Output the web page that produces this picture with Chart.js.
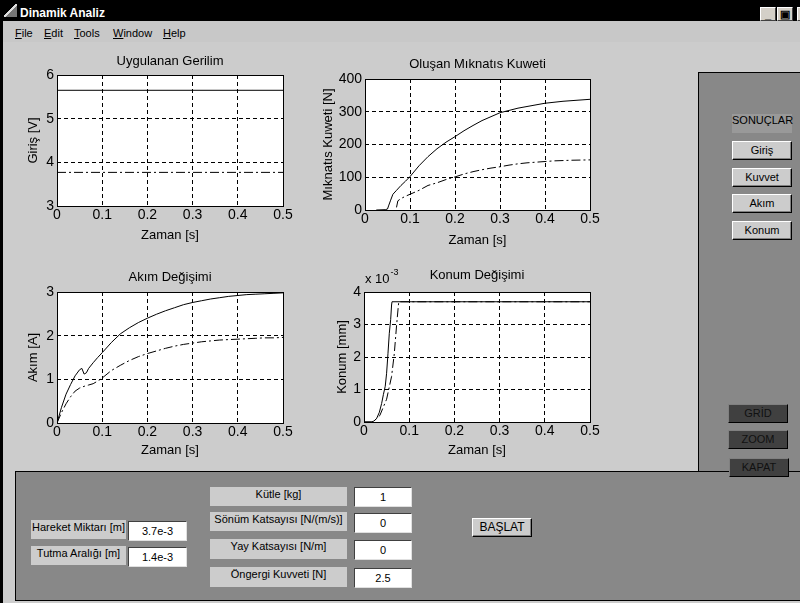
<!DOCTYPE html>
<html><head><meta charset="utf-8">
<script src="https://cdn.jsdelivr.net/npm/chart.js@4.4.1/dist/chart.umd.min.js"></script>
<style>
html,body{margin:0;padding:0;}
body{width:800px;height:603px;position:relative;overflow:hidden;background:#cccccc;font-family:'Liberation Sans',Arial,sans-serif;color:#000;}
.a{position:absolute;box-sizing:border-box;}
#titlebar{left:0;top:0;width:800px;height:21px;background:#000;}
#ttext{left:20px;top:5px;color:#fff;font-weight:bold;font-size:12px;line-height:16px;}
#icon{left:4px;top:4px;width:13px;height:13px;background:linear-gradient(135deg,#000 0 45%,#ddd 45% 55%,#777 55% 100%);}
.wb{top:7px;width:16px;height:14px;background:#d4d0c8;border-top:1px solid #fff;border-left:1px solid #fff;border-right:1px solid #404040;border-bottom:1px solid #404040;font-size:11px;line-height:12px;text-align:center;font-weight:bold;}
#menubar{left:0;top:21px;width:800px;height:21px;background:#c8c8c8;}
.m{top:26px;font-size:11px;line-height:14px;}
.m u{text-decoration:underline;}
#leftedge{left:0;top:21px;width:3px;height:582px;background:#000;}
#rpanel{left:698px;top:72px;width:102px;height:399px;background:#888888;border-left:1px solid #000;border-top:1px solid #000;}
#bpanel{left:15px;top:471px;width:785px;height:130px;background:#888888;border-left:1px solid #000;border-top:1px solid #000;border-bottom:1px solid #000;}
.btn{background:#cccccc;border-top:1px solid #fff;border-left:1px solid #fff;border-right:1px solid #000;border-bottom:1px solid #000;box-shadow:inset -1px -1px #808080;font-size:11px;text-align:center;line-height:17px;}
.dbtn{background:#404040;border-top:1px solid #808080;border-left:1px solid #808080;border-right:1px solid #000;border-bottom:1px solid #000;font-size:11px;text-align:center;line-height:17px;color:#111;}
.lbl{background:#cccccc;font-size:11px;text-align:center;line-height:14px;}
.ed{background:#fff;border-top:1px solid #404040;border-left:1px solid #404040;border-right:1px solid #e0e0e0;border-bottom:1px solid #e0e0e0;font-size:11px;text-align:center;line-height:19px;}
canvas{position:absolute;}
</style>
</head><body>
<div class="a" id="titlebar"></div>
<div class="a" id="icon"></div>
<div class="a" id="ttext">Dinamik Analiz</div>
<div class="a wb" style="left:760px;">_</div>
<div class="a wb" style="left:777px;">&#x25A3;</div>
<div class="a wb" style="left:797px;">×</div>
<div class="a" id="menubar"></div>
<div class="a m" style="left:15px;"><u>F</u>ile</div>
<div class="a m" style="left:44px;"><u>E</u>dit</div>
<div class="a m" style="left:74px;"><u>T</u>ools</div>
<div class="a m" style="left:113px;"><u>W</u>indow</div>
<div class="a m" style="left:163px;"><u>H</u>elp</div>
<div class="a" id="leftedge"></div>

<div class="a" id="rpanel"></div>
<div class="a lbl" style="left:732px;top:114px;width:60px;height:19px;background:#999999;line-height:13px;">SONUÇLAR</div>
<div class="a btn" style="left:732px;top:141px;width:60px;height:19px;">Giriş</div>
<div class="a btn" style="left:732px;top:168px;width:60px;height:19px;">Kuvvet</div>
<div class="a btn" style="left:732px;top:194px;width:60px;height:19px;">Akım</div>
<div class="a btn" style="left:732px;top:221px;width:60px;height:19px;">Konum</div>

<div class="a" id="bpanel"></div>
<div class="a dbtn" style="left:728px;top:404px;width:60px;height:19px;">GRİD</div>
<div class="a dbtn" style="left:728px;top:430px;width:60px;height:19px;">ZOOM</div>
<div class="a dbtn" style="left:729px;top:458px;width:60px;height:19px;">KAPAT</div>

<div class="a lbl" style="left:31px;top:520px;width:95px;height:19px;">Hareket Miktarı [m]</div>
<div class="a ed" style="left:128px;top:521px;width:59px;height:20px;">3.7e-3</div>
<div class="a lbl" style="left:31px;top:546px;width:95px;height:19px;">Tutma Aralığı [m]</div>
<div class="a ed" style="left:128px;top:547px;width:59px;height:20px;">1.4e-3</div>

<div class="a lbl" style="left:210px;top:487px;width:137px;height:19px;">Kütle [kg]</div>
<div class="a ed" style="left:354px;top:487px;width:58px;height:20px;">1</div>
<div class="a lbl" style="left:210px;top:512px;width:137px;height:19px;">Sönüm Katsayısı [N/(m/s)]</div>
<div class="a ed" style="left:354px;top:513px;width:58px;height:20px;">0</div>
<div class="a lbl" style="left:210px;top:539px;width:137px;height:20px;">Yay Katsayısı [N/m]</div>
<div class="a ed" style="left:354px;top:540px;width:58px;height:20px;">0</div>
<div class="a lbl" style="left:210px;top:567px;width:137px;height:20px;">Öngergi Kuvveti [N]</div>
<div class="a ed" style="left:354px;top:568px;width:58px;height:20px;">2.5</div>
<div class="a btn" style="left:472px;top:518px;width:60px;height:19px;font-size:12px;">BAŞLAT</div>

<canvas id="c1" width="300" height="215" style="left:0;top:45px;"></canvas>
<canvas id="c2" width="310" height="215" style="left:300px;top:45px;"></canvas>
<canvas id="c3" width="300" height="215" style="left:0;top:255px;"></canvas>
<canvas id="c4" width="310" height="215" style="left:300px;top:255px;"></canvas>

<script>
// ---------- DATA ----------
const xTicks = ['0', '0.1', '0.2', '0.3', '0.4', '0.5'];

// Uygulanan Gerilim (Giriş [V])
const girisT = [0, 0.5];
const girisSolid = [5.65, 5.65];
const girisDashDot = [3.77, 3.77];

// Oluşan Mıknatıs Kuweti [N]
const kuvvetT1 = [0.025,0.045,0.05,0.053,0.057,0.062,0.07,0.08,0.09,0.1,0.12,0.14,0.16,0.18,0.2,0.22,0.24,0.26,0.28,0.3,0.32,0.34,0.36,0.38,0.4,0.42,0.44,0.46,0.48,0.5];
const kuvvet1  = [0,1,3,15,30,48,60,75,88,102,135,163,187,207,224,242,258,273,285,297,304,311,316,321,326,329,332,334,336,338];
const kuvvetT2 = [0.07,0.073,0.08,0.09,0.1,0.12,0.14,0.16,0.18,0.2,0.22,0.24,0.26,0.28,0.3,0.32,0.34,0.36,0.38,0.4,0.42,0.44,0.46,0.48,0.5];
const kuvvet2  = [8,28,35,42,48,60,75,83,93,101,110,117,123,128,132,137,141,144,146,148,150,151,152,152.5,153];

// Akım Değişimi [A]
const akimT1 = [0,0.005,0.01,0.02,0.03,0.04,0.05,0.055,0.06,0.065,0.07,0.08,0.09,0.1,0.12,0.14,0.16,0.18,0.2,0.22,0.24,0.26,0.28,0.3,0.32,0.34,0.36,0.38,0.4,0.42,0.44,0.46,0.48,0.5];
const akim1  = [0,0.18,0.36,0.66,0.88,1.08,1.22,1.25,1.12,1.15,1.25,1.38,1.5,1.61,1.84,2.04,2.18,2.3,2.4,2.49,2.57,2.64,2.71,2.76,2.8,2.84,2.87,2.9,2.92,2.94,2.95,2.96,2.97,2.98];
const akimT2 = [0,0.01,0.02,0.03,0.04,0.05,0.06,0.07,0.08,0.09,0.1,0.12,0.14,0.16,0.18,0.2,0.22,0.24,0.26,0.28,0.3,0.32,0.34,0.36,0.38,0.4,0.42,0.44,0.46,0.48,0.5];
const akim2  = [0,0.24,0.44,0.6,0.73,0.8,0.84,0.87,0.9,0.96,1.03,1.2,1.32,1.43,1.52,1.59,1.65,1.71,1.76,1.8,1.83,1.86,1.88,1.9,1.91,1.92,1.93,1.94,1.95,1.95,1.96];

// Konum Değişimi (x 10^-3)
const konumT1 = [0,0.017,0.022,0.028,0.034,0.039,0.043,0.047,0.05,0.053,0.056,0.059,0.061,0.062,0.5];
const konum1  = [0,0,0.03,0.11,0.3,0.57,0.85,1.1,1.5,2.1,2.73,3.15,3.6,3.7,3.7];
const konumT2 = [0,0.02,0.035,0.05,0.061,0.067,0.072,0.076,0.077,0.5];
const konum2  = [0,0,0.2,0.7,1.4,2.1,2.96,3.58,3.7,3.7];

// ---------- RENDERING ----------
const FONT = "'Liberation Sans', Arial, Helvetica, sans-serif";
Chart.defaults.font.family = FONT;
Chart.defaults.color = '#000';

const pts = (t, v) => t.map((x, i) => ({x: x, y: v[i]}));
const SOLID = [];
const DASHDOT = [9, 3, 2, 3];

const matlabAxes = {
  id: 'matlabAxes',
  beforeDraw(chart) {
    const a = chart.chartArea, ctx = chart.ctx;
    ctx.save(); ctx.fillStyle = '#fff';
    ctx.fillRect(a.left, a.top, a.right - a.left, a.bottom - a.top);
    ctx.restore();
  },
  afterDraw(chart, args, o) {
    const a = chart.chartArea, ctx = chart.ctx;
    ctx.save();
    ctx.setLineDash([]);
    ctx.strokeStyle = '#000'; ctx.lineWidth = 1;
    ctx.strokeRect(a.left + 0.5, a.top + 0.5, a.right - a.left, a.bottom - a.top);
    ctx.fillStyle = '#000';
    ctx.font = '13px ' + FONT;
    ctx.textAlign = 'center'; ctx.textBaseline = 'middle';
    ctx.fillText(o.title, (a.left + a.right) / 2, a.top - o.titleGap);
    if (o.exponent) {
      ctx.textAlign = 'left';
      ctx.font = '13px ' + FONT;
      ctx.fillText('x 10', a.left + 1, a.top - 13);
      const w = ctx.measureText('x 10').width;
      ctx.font = '9px ' + FONT;
      ctx.fillText(o.exponent, a.left + 2 + w, a.top - 19);
    }
    ctx.restore();
  }
};

function makeChart(id, cfg) {
  const ds = cfg.series.map(s => ({
    data: pts(s.t, s.v), borderColor: '#000', borderWidth: 1,
    borderDash: s.dash, pointRadius: 0, tension: 0, fill: false
  }));
  return new Chart(document.getElementById(id), {
    type: 'line',
    data: {datasets: ds},
    plugins: [matlabAxes],
    options: {
      responsive: false, animation: false, devicePixelRatio: 1,
      layout: {padding: {left: 0, top: cfg.padTop, right: cfg.padRight, bottom: 0}},
      plugins: {legend: {display: false}, tooltip: {enabled: false},
        matlabAxes: {title: cfg.title, titleGap: cfg.titleGap, exponent: cfg.exponent}},
      scales: {
        x: {
          type: 'linear', min: 0, max: 0.5,
          afterBuildTicks: s => { s.ticks = xTicks.map(v => ({value: parseFloat(v)})); },
          afterFit: s => { s.height = cfg.xH; s.paddingLeft = 0; s.paddingRight = 0; s.paddingTop = 0; s.paddingBottom = 0; },
          ticks: {autoSkip: false, maxRotation: 0, padding: 1, font: {size: 14},
                  callback: (v, i) => xTicks[i]},
          grid: {color: '#000', lineWidth: 1, drawTicks: false},
          border: {display: false, dash: [4, 3]},
          title: {display: true, text: 'Zaman [s]', font: {size: 13}, padding: {top: 0, bottom: cfg.xTitlePad}}
        },
        y: {
          type: 'linear', min: cfg.yMin, max: cfg.yMax,
          afterBuildTicks: s => { s.ticks = cfg.yTicks.map(v => ({value: v})); },
          afterFit: s => { s.width = cfg.yW; s.paddingLeft = 0; s.paddingRight = 0; s.paddingTop = 0; s.paddingBottom = 0; },
          ticks: {autoSkip: false, padding: 3, font: {size: 14}, callback: v => String(v)},
          grid: {color: '#000', lineWidth: 1, drawTicks: false},
          border: {display: false, dash: [4, 3]},
          title: {display: true, text: cfg.yTitle, font: {size: 13}, padding: {top: cfg.yTitlePad, bottom: 0}}
        }
      }
    }
  });
}

makeChart('c1', {
  title: 'Uygulanan Gerilim', titleGap: 14, padTop: 30, padRight: 17, yW: 57, xH: 54,
  yMin: 3, yMax: 6, yTicks: [3, 4, 5, 6], yTitle: 'Giriş [V]', yTitlePad: 25.5, xTitlePad: 16.7,
  series: [{t: girisT, v: girisSolid, dash: SOLID}, {t: girisT, v: girisDashDot, dash: DASHDOT}]
});
makeChart('c2', {
  title: 'Oluşan Mıknatıs Kuweti', titleGap: 14.3, padTop: 34, padRight: 20, yW: 65, xH: 50,
  yMin: 0, yMax: 400, yTicks: [0, 100, 200, 300, 400], yTitle: 'Mıknatıs Kuweti [N]', yTitlePad: 20.2, xTitlePad: 12.2,
  series: [{t: kuvvetT1, v: kuvvet1, dash: SOLID}, {t: kuvvetT2, v: kuvvet2, dash: DASHDOT}]
});
makeChart('c3', {
  title: 'Akım Değişimi', titleGap: 15, padTop: 37, padRight: 17, yW: 57, xH: 47,
  yMin: 0, yMax: 3, yTicks: [0, 1, 2, 3], yTitle: 'Akım [A]', yTitlePad: 25.9, xTitlePad: 12.2,
  series: [{t: akimT1, v: akim1, dash: SOLID}, {t: akimT2, v: akim2, dash: DASHDOT}]
});
makeChart('c4', {
  title: 'Konum Değişimi', titleGap: 17, padTop: 37, padRight: 20, yW: 64, xH: 48, exponent: '-3',
  yMin: 0, yMax: 4, yTicks: [0, 1, 2, 3, 4], yTitle: 'Konum [mm]', yTitlePad: 34.2, xTitlePad: 12.2,
  series: [{t: konumT1, v: konum1, dash: SOLID}, {t: konumT2, v: konum2, dash: DASHDOT}]
});
</script>
</body></html>
